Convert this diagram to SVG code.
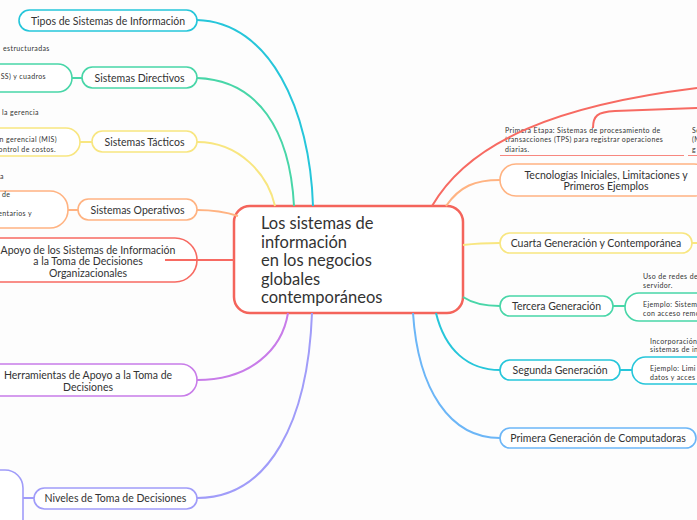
<svg xmlns="http://www.w3.org/2000/svg" width="697" height="520" viewBox="0 0 697 520">
<style>
text{font-family:Lato,"Open Sans","DejaVu Sans",sans-serif;fill:#333}
.lbl{font-size:10.5px;text-anchor:middle}
.leaf{font-size:7px;letter-spacing:0.38px}
.ctr{font-size:16.5px}
.n{fill:#fff;stroke-width:1.6}
.c{fill:none;stroke-width:2}
.cy{stroke:#26c6da}.gr{stroke:#48d6a8}.ye{stroke:#f8e680}.or{stroke:#ffb382}.rd{stroke:#f76a62}.pu{stroke:#c87ce9}.pw{stroke:#a09cf9}.bl{stroke:#6cb6f7}
</style>
<rect x="0" y="0" width="697" height="520" fill="#fdfdfd"/>
<g id="nodes">
<g id="central"><rect x="234" y="206" width="229" height="107" rx="16" fill="#fff" stroke="#f4645b" stroke-width="2.5"/>
<text class="ctr" x="261" y="229">Los sistemas de</text>
<text class="ctr" x="261" y="247.5">información</text>
<text class="ctr" x="261" y="266">en los negocios</text>
<text class="ctr" x="261" y="284.5">globales</text>
<text class="ctr" x="261" y="303">contemporáneos</text></g>
<g id="tipos"><rect class="n cy" x="19" y="10" width="178" height="21" rx="10.5"/><text class="lbl" x="108" y="24.5">Tipos de Sistemas de Información</text></g>
<g id="directivos"><rect class="n gr" x="82" y="67" width="115" height="21" rx="10.5"/><text class="lbl" x="139.5" y="81.5">Sistemas Directivos</text></g>
<g id="directivos-leaf"><text class="leaf" x="3" y="50.5">estructuradas</text><rect class="n gr" x="-60" y="64" width="132" height="28" rx="14"/><text class="leaf" x="46" y="78.5" text-anchor="end">SS) y cuadros</text></g>
<g id="tacticos"><rect class="n ye" x="92" y="131" width="105" height="21" rx="10.5"/><text class="lbl" x="144.5" y="145.5">Sistemas Tácticos</text></g>
<g id="tacticos-leaf"><text class="leaf" x="2" y="114.5">la gerencia</text><rect class="n ye" x="-60" y="128" width="140" height="28" rx="14"/><text class="leaf" x="57" y="141.5" text-anchor="end">n gerencial (MIS)</text><text class="leaf" x="56" y="151.5" text-anchor="end">ontrol de costos.</text></g>
<g id="operativos"><rect class="n or" x="78" y="199" width="119" height="21" rx="10.5"/><text class="lbl" x="137.5" y="213.5">Sistemas Operativos</text></g>
<g id="operativos-leaf"><text class="leaf" x="0" y="178.5">a</text><rect class="n or" x="-60" y="191" width="128" height="37" rx="18"/><text class="leaf" x="2" y="196.5">de</text><text class="leaf" x="32" y="215.5" text-anchor="end">entarios y</text></g>
<g id="apoyo"><rect class="n rd" x="-30" y="238" width="227" height="44" rx="22"/><text class="lbl" x="88" y="253.5">Apoyo de los Sistemas de Información</text><text class="lbl" x="88" y="265">a la Toma de Decisiones</text><text class="lbl" x="88" y="276.5">Organizacionales</text></g>
<g id="herramientas"><rect class="n pu" x="-30" y="364" width="227" height="32" rx="16"/><text class="lbl" x="88" y="378.5">Herramientas de Apoyo a la Toma de</text><text class="lbl" x="88" y="390.5">Decisiones</text></g>
<g id="niveles"><rect class="n pw" x="34" y="488" width="163" height="21" rx="10.5"/><text class="lbl" x="115.5" y="502">Niveles de Toma de Decisiones</text></g>
<g id="niveles-leaf"><rect class="n pw" x="-80" y="470" width="103" height="70" rx="18"/></g>
<g id="tecnologias"><rect class="n or" x="500" y="164" width="210" height="32" rx="16"/><text class="lbl" x="606" y="178.5">Tecnologías Iniciales, Limitaciones y</text><text class="lbl" x="606" y="190">Primeros Ejemplos</text></g>
<g id="primera-etapa"><text class="leaf" x="505" y="133">Primera Etapa: Sistemas de procesamiento de</text><text class="leaf" x="505" y="142">transacciones (TPS) para registrar operaciones</text><text class="leaf" x="505" y="151.5">diarias.</text><line x1="500" y1="155.5" x2="684" y2="155.5" stroke="#f7877f" stroke-width="1"/></g>
<g id="segunda-etapa"><text class="leaf" x="692" y="133">Se</text><text class="leaf" x="692" y="142">(M</text><text class="leaf" x="692" y="151.5">g</text><line x1="688" y1="155.5" x2="697" y2="155.5" stroke="#f7877f" stroke-width="1"/></g>
<g id="cuarta"><rect class="n ye" x="500" y="233" width="192" height="20" rx="10"/><text class="lbl" x="596" y="247">Cuarta Generación y Contemporánea</text></g>
<g id="tercera"><rect class="n gr" x="500" y="296" width="113" height="20" rx="10"/><text class="lbl" x="556.5" y="310">Tercera Generación</text></g>
<g id="tercera-leaf"><text class="leaf" x="643" y="279">Uso de redes de</text><text class="leaf" x="643" y="288">servidor.</text><rect class="n gr" x="625" y="293" width="140" height="28" rx="14"/><text class="leaf" x="643" y="307">Ejemplo: Sistem</text><text class="leaf" x="643" y="315.5">con acceso remo</text></g>
<g id="segunda"><rect class="n cy" x="500" y="360" width="120" height="20" rx="10"/><text class="lbl" x="560" y="374">Segunda Generación</text></g>
<g id="segunda-leaf"><text class="leaf" x="650" y="343.5">Incorporación</text><text class="leaf" x="650" y="352">sistemas de in</text><rect class="n cy" x="632" y="357" width="140" height="27" rx="13.5"/><text class="leaf" x="650" y="371">Ejemplo: Limi</text><text class="leaf" x="650" y="380">datos y acces</text></g>
<g id="primera"><rect class="n bl" x="500" y="428" width="196" height="20" rx="10"/><text class="lbl" x="598" y="442">Primera Generación de Computadoras</text></g>
</g>
<g id="connectors">
<path class="c cy" d="M197,20 C270,22 310,110 313,206"/>
<path class="c gr" d="M197,78 C258,80 290,130 294,206"/>
<path class="c ye" d="M197,142 C240,142 268,175 275,206"/>
<path class="c or" d="M197,210 C215,210 226,212 238,216"/>
<path class="c rd" d="M165,260 L234,260"/>
<path class="c pu" d="M197,380 C250,380 282,350 288,313"/>
<path class="c pw" d="M197,498 C270,498 308,420 312,313"/>
<path class="c bl" d="M500,438 C450,438 418,390 413,313"/>
<path class="c cy" d="M500,370 C468,370 445,350 436,313"/>
<path class="c gr" d="M500,306 C482,306 472,303 463,297"/>
<path class="c ye" d="M463,245 C480,243 490,243 500,243"/>
<path class="c or" d="M446,206 C460,186 475,180 500,180"/>
<path class="c rd" d="M432,206 C470,140 560,105 697,88"/>
<path class="c rd" d="M593,128 C593,116 597,112 615,111 L697,108"/>
<line class="c gr" x1="72" y1="78" x2="82" y2="78"/>
<line class="c ye" x1="80" y1="142" x2="92" y2="142"/>
<line class="c or" x1="68" y1="210" x2="78" y2="210"/>
<line class="c pw" x1="23" y1="498" x2="34" y2="498"/>
<line class="c ye" x1="692" y1="243" x2="697" y2="243"/>
<line class="c gr" x1="613" y1="306" x2="625" y2="306"/>
<line class="c cy" x1="620" y1="370" x2="632" y2="370"/>
</g>
</svg>
